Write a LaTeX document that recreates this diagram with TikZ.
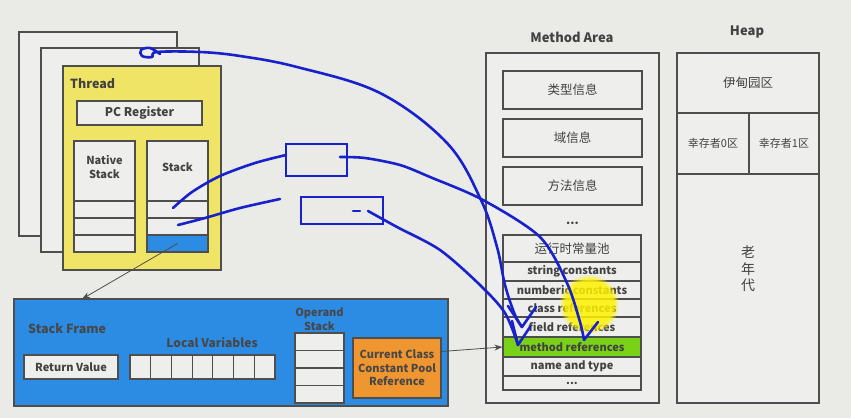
\documentclass[tikz,border=0pt]{standalone}
\usepackage{fontspec}
\setmainfont{Noto Sans CJK SC}
\usetikzlibrary{calc,fadings,arrows.meta}
\definecolor{bg}{RGB}{234,235,231}
\definecolor{boxfill}{RGB}{238,238,236}
\definecolor{linegray}{RGB}{78,78,78}
\definecolor{txt}{RGB}{66,66,66}
\definecolor{threadyellow}{RGB}{240,228,102}
\definecolor{frameblue}{RGB}{44,140,228}
\definecolor{poolorange}{RGB}{240,150,48}
\definecolor{refgreen}{RGB}{122,210,24}
\definecolor{pen}{RGB}{24,34,204}
\def\graybox{\node[box]}
\def\drawpen{\draw[pencurve]}

\begin{document}
\begin{tikzpicture}[x=1pt,y=-1pt,
  box/.style={draw=linegray,fill=boxfill,line width=1.2pt,inner sep=0pt,
    font=\bfseries\fontsize{11}{12.5}\selectfont,text=txt,align=center},
  lbl/.style={font=\bfseries\fontsize{12}{13.5}\selectfont,text=txt,inner sep=0pt,align=center},
  cjk/.style={font=\fontsize{12.5}{14}\selectfont},
  conn/.style={draw=linegray,line width=0.8pt,-{Stealth[length=8pt,width=6pt]}},
  pencurve/.style={draw=pen,line width=2.6pt,line cap=round,line join=round},
  penbox/.style={draw=pen,line width=2.4pt,inner sep=0pt}]
\fill[bg] (0,0) rectangle (851,418);
\useasboundingbox (0,0) rectangle (851,418);

% threads
\graybox[minimum width=158pt,minimum height=204pt] (back1) at (98,134) {};
\graybox[minimum width=158pt,minimum height=204pt] (back2) at (120,150) {};
\graybox[fill=threadyellow,minimum width=158pt,minimum height=204pt] (thread) at (142,168) {};
\node[lbl,anchor=west,font=\bfseries\fontsize{12.5}{14}\selectfont] (threadlbl) at (70,84) {Thread};
\graybox[minimum width=125pt,minimum height=24pt,font=\bfseries\fontsize{12}{13}\selectfont] (pc) at (139.5,113) {PC Register};
\graybox[minimum width=61pt,minimum height=60pt] (native) at (104.5,171) {};
\graybox[minimum width=61pt,minimum height=60pt] (stack) at (177.5,171) {};
\node[lbl,font=\bfseries\fontsize{11}{13.5}\selectfont] (nativelbl) at (104.5,167) {Native\\Stack};
\node[lbl,font=\bfseries\fontsize{11}{13.5}\selectfont] (stacklbl) at (177.5,167) {Stack};
\foreach \i/\y in {1/209.5,2/226.5,3/243.5}{
  \graybox[minimum width=61pt,minimum height=17pt] (n\i) at (104.5,\y) {};
  \graybox[minimum width=61pt,minimum height=17pt] (s\i) at (177.5,\y) {};
}
\graybox[fill=frameblue,minimum width=61pt,minimum height=17pt] (s3) at (177.5,243.5) {};

% stack frame
\graybox[fill=frameblue,minimum width=434pt,minimum height=107pt] (frame) at (231,352.5) {};
\node[lbl,anchor=west,text=black!72,font=\bfseries\fontsize{12.5}{14}\selectfont] (framelbl) at (28,329) {Stack Frame};
\graybox[minimum width=94pt,minimum height=24pt] (ret) at (71,367) {Return Value};
\node[lbl,text=black!72] (locallbl) at (212,343) {Local Variables};
\foreach \i in {0,...,6}
  \graybox[minimum width=20.7pt,minimum height=24pt] (lv\i) at ({140.35+20.7*\i},367) {};
\node[lbl,text=black!72,font=\bfseries\fontsize{11}{13.5}\selectfont] (oplbl) at (319.5,319) {Operand\\Stack};
\foreach \i/\y in {1/341.75,2/359.25,3/376.75,4/394.25}
  \graybox[minimum width=49pt,minimum height=17.5pt] (op\i) at (319.5,\y) {};
\graybox[fill=poolorange,minimum width=88pt,minimum height=60pt,text=black!72,
  font=\bfseries\fontsize{11}{13.5}\selectfont] (cur) at (397,368) {Current Class\\Constant Pool\\Reference};

% method area
\node[lbl,font=\bfseries\fontsize{13}{14}\selectfont] (malbl) at (572,37) {Method Area};
\graybox[minimum width=173pt,minimum height=350pt] (ma) at (572.5,228) {};
\graybox[minimum width=139pt,minimum height=38pt,cjk] (m1) at (572.5,90) {类型信息};
\graybox[minimum width=139pt,minimum height=38pt,cjk] (m2) at (572.5,138) {域信息};
\graybox[minimum width=139pt,minimum height=38pt,cjk] (m3) at (572.5,186) {方法信息};
\node[lbl] (madots) at (572.5,223) {...};
\graybox[minimum width=138pt,minimum height=27pt,cjk] (pr0) at (572,248.5) {运行时常量池};
\foreach \n/\y/\h/\t in {1/271.5/19/string constants,2/290/18/numberic constants,
  3/308/18/class references,4/327/20/field references,6/366.5/19/name and type}
  \graybox[minimum width=138pt,minimum height=\h pt] (pr\n) at (572,\y) {\t};
\graybox[minimum width=138pt,minimum height=14pt] (pr7) at (572,383) {...};
\graybox[fill=refgreen,minimum width=138pt,minimum height=20pt] (pr5) at (572,347) {method references};

% heap
\node[lbl,font=\bfseries\fontsize{13}{14}\selectfont] (heaplbl) at (747,32) {Heap};
\graybox[minimum width=142pt,minimum height=60pt,cjk] (eden) at (748,83) {伊甸园区};
\graybox[minimum width=72pt,minimum height=61pt,font=\fontsize{11}{12}\selectfont] (s0) at (713,143.5) {幸存者0区};
\graybox[minimum width=70pt,minimum height=61pt,font=\fontsize{11}{12}\selectfont] (s1) at (784,143.5) {幸存者1区};
\graybox[minimum width=142pt,minimum height=229pt] (old) at (748,288.5) {};
\node[lbl,font=\fontsize{14}{16.5}\selectfont] (oldlbl) at (748,269) {老\\年\\代};

% arrows
\coordinate (frametop) at (82,299);
\draw[conn] (s3.center) -- (frametop);
\draw[conn] ($(cur.north east)!0.23!(cur.south east)$) -- (pr5.west);

% highlight
\fill[yellow,fill opacity=0.85,path fading=circle with fuzzy edge 20 percent] (589,304) circle (30pt);

% pen notes
\node[penbox,minimum width=61pt,minimum height=32pt] (ref1) at (316.5,160) {};
\node[penbox,minimum width=82pt,minimum height=27pt] (ref2) at (342,210.5) {};
\draw[pencurve] (353,211) -- (360,211);
\drawpen plot[smooth,tension=0.6] coordinates {(160,54) (150,48) (141,50) (142,56) (152,57) (157,52)
  (200,52) (240,56) (297,67) (380,93) (447,143) (481,200) (497,247) (505,285) (515,315) (522,327)};
\drawpen (508,306) -- (522,327) -- (536,307);
\drawpen plot[smooth] coordinates {(173,208) (192,192) (220,176) (255,163) (286,155)};
\drawpen plot[smooth] coordinates {(340,157) (365,158) (400,165) (430,177) (483,200)
  (540,237) (567,283) (580,322) (584,340)};
\drawpen (598,322) -- (584,340);
\drawpen plot[smooth] coordinates {(178,225) (205,218) (240,208) (280,199)};
\drawpen plot[smooth] coordinates {(368,211) (397,227) (440,250) (480,285) (505,313) (518,345)};
\drawpen (512,321) -- (518,345) -- (530,327);
\end{tikzpicture}
\end{document}
